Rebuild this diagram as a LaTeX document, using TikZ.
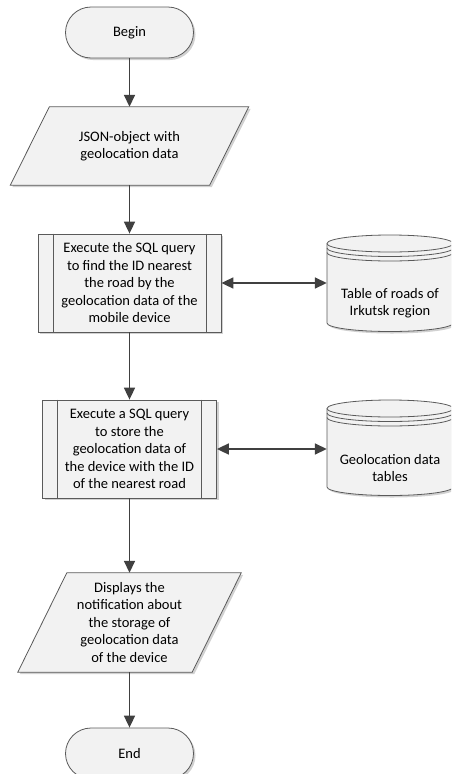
\documentclass[tikz,border=0pt]{standalone}
\usepackage{fontspec}
\setmainfont{Carlito}
\usetikzlibrary{arrows.meta,shadows,backgrounds}
\definecolor{edge}{HTML}{404040}
\definecolor{outline}{HTML}{5A5A5A}
\definecolor{boxfill}{HTML}{F2F2F2}
\begin{document}
\begin{tikzpicture}[x=1pt,y=-1pt,
  every node/.style={font=\fontsize{14.5}{17.5}\selectfont, align=center, inner sep=0pt, text=black},
  shapeline/.style={draw=outline, line width=0.8pt},
  boxshadow/.style={drop shadow={shadow xshift=2pt, shadow yshift=-2pt, fill=black, opacity=0.18}},
  terminal/.style={shapeline, fill=boxfill, boxshadow, rectangle, rounded corners=25.5pt,
                   minimum width=128pt, minimum height=51pt},
  procbox/.style={shapeline, fill=boxfill, boxshadow, rectangle, minimum height=98pt},
  field/.style={rectangle},
  flow/.style={draw=edge, line width=1.7pt, -{Triangle[length=12pt,width=11pt]}},
  dbl/.style={draw=edge, line width=1.7pt,
              {Triangle[length=12pt,width=11pt]}-{Triangle[length=12pt,width=11pt]}},
]
\useasboundingbox (0,0) rectangle (451,774);
\clip (0,0) rectangle (451,774);

% flowchart nodes
\node[terminal] (begin) at (129.5,32.5) {Begin};
\node[field, minimum width=199pt, minimum height=78pt] (json) at (129.5,146)
  {JSON-object with\\geolocation data};
\node[procbox, minimum width=183pt] (q1) at (129.5,283)
  {Execute the SQL query\\to find the ID nearest\\the road by the\\geolocation data of the\\mobile device};
\node[procbox, minimum width=174pt] (q2) at (129.5,449)
  {Execute a SQL query\\to store the\\geolocation data of\\the device with the ID\\of the nearest road};
\node[field, minimum width=174pt, minimum height=99pt] (note) at (129.5,622.5)
  {Displays the\\notification about\\the storage of\\geolocation data\\of the device};
\node[terminal] (end) at (129.5,753.5) {End};

% database labels
\node[field, minimum width=126pt] (db1) at (390,303) {Table of roads of\\Irkutsk region};
\node[field, minimum width=126pt] (db2) at (390,468) {Geolocation data\\tables};

% side bars of the predefined-process boxes
\foreach \p in {q1,q2}{
  \draw[shapeline] ([xshift=15.5pt]\p.north west) -- ([xshift=15.5pt]\p.south west);
  \draw[shapeline] ([xshift=-15.5pt]\p.north east) -- ([xshift=-15.5pt]\p.south east);
}

% outlines drawn behind the texts
\begin{scope}[on background layer]
  \clip (0,0) rectangle (451,774);
  % data parallelograms
  \path[shapeline, fill=boxfill, boxshadow]
    ([xshift=19.5pt]json.north west) -- ([xshift=19.5pt]json.north east)
    -- ([xshift=-19.5pt]json.south east) -- ([xshift=-19.5pt]json.south west) -- cycle;
  \path[shapeline, fill=boxfill, boxshadow]
    ([xshift=24.5pt]note.north west) -- ([xshift=24.5pt]note.north east)
    -- ([xshift=-24.5pt]note.south east) -- ([xshift=-24.5pt]note.south west) -- cycle;
  % database cylinders
  \foreach \t/\b in {243.5/323, 408.5/487}{
    \path[shapeline, fill=boxfill, boxshadow]
      (327,\t) -- (327,\b) arc[start angle=180, end angle=360, x radius=63pt, y radius=8.5pt]
      -- (453,\t) arc[start angle=0, end angle=180, x radius=63pt, y radius=8.5pt] -- cycle;
    \draw[shapeline] (327,\t) arc[start angle=180, end angle=360, x radius=63pt, y radius=8.5pt];
    \draw[shapeline] (327,\t+4.5) arc[start angle=180, end angle=360, x radius=63pt, y radius=8.5pt];
    \draw[shapeline] (327,\t+9) arc[start angle=180, end angle=360, x radius=63pt, y radius=8.5pt];
  }
\end{scope}

% connectors
\draw[flow] (begin.south) -- (json.north);
\draw[flow] (json.south) -- (q1.north);
\draw[flow] (q1.south) -- (q2.north);
\draw[flow] (q2.south) -- (note.north);
\draw[flow] (note.south) -- (end.north);
\draw[dbl] (q1.east) -- (q1.east -| db1.west);
\draw[dbl] (q2.east) -- (q2.east -| db2.west);
\end{tikzpicture}
\end{document}
